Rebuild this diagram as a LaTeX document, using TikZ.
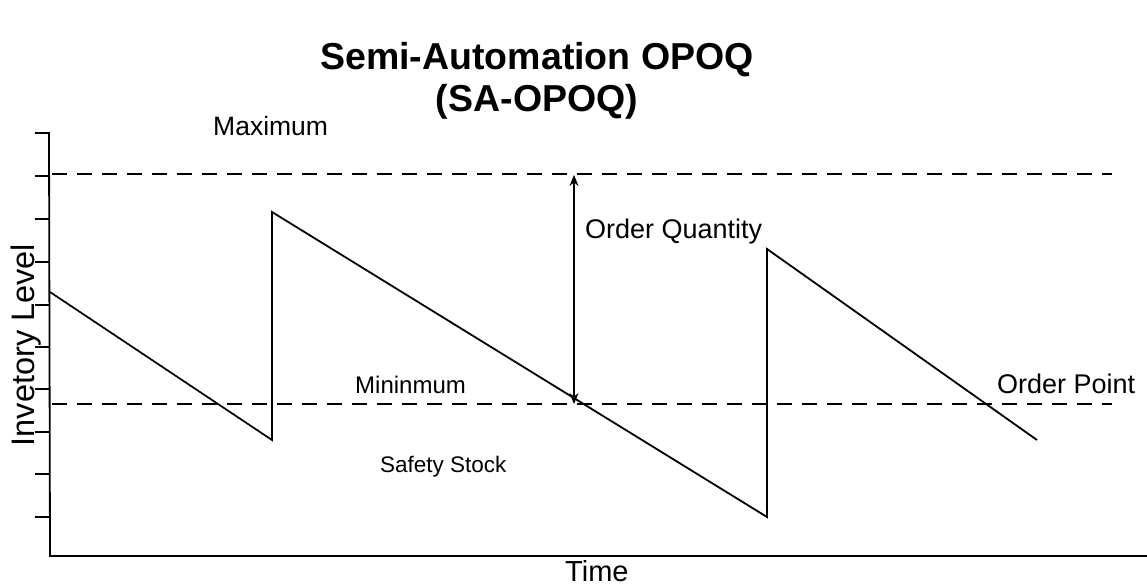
\documentclass[tikz,border=0pt]{standalone}
\usepackage{fontspec}
\setmainfont{Liberation Sans}
\usetikzlibrary{arrows.meta}
\begin{document}
\begin{tikzpicture}[x=1pt,y=-1pt,
  axisline/.style={line width=1.8pt},
  tickline/.style={line width=1.5pt},
  levelline/.style={line width=1.7pt, dash pattern=on 15pt off 10pt},
  sawline/.style={line width=1.8pt, line join=miter},
  qtyarrow/.style={line width=1.3pt, {Stealth[length=11pt,width=9pt]}-{Stealth[length=11pt,width=9pt]}},
  lbl/.style={inner sep=0pt, anchor=base west},
  ttl/.style={font=\bfseries\fontsize{37.5}{44}\selectfont, inner sep=0pt, align=center}
]
\useasboundingbox (0,0) rectangle (1147,588);
% title
\node[ttl, anchor=base] (t1) at (537,70) {Semi-Automation OPOQ};
\node[ttl, anchor=base] (t2) at (537,112) {(SA-OPOQ)};
% axes
\coordinate (ytop) at (49,133);
\coordinate (orig) at (50,556);
\coordinate (xend) at (1147,556);
\draw[axisline] (ytop) -- (orig) -- (xend);
\foreach \yy in {133,176,219,262,305,347,389,432,474,517}
  \draw[tickline] (35,\yy) -- (49.5,\yy);
% level lines
\coordinate (maxL) at (52,174);
\coordinate (maxR) at (1112,174);
\coordinate (minL) at (52,404);
\coordinate (minR) at (1112,404);
\draw[levelline] (maxL) -- (maxR);
\draw[levelline] (minL) -- (minR);
% sawtooth
\coordinate (s0) at (50,292);
\coordinate (s1) at (272,440);
\coordinate (s2) at (272,212);
\coordinate (s3) at (767,517);
\coordinate (s4) at (767,249);
\coordinate (s5) at (1037,440);
\draw[sawline] (s0) -- (s1) -- (s2) -- (s3) -- (s4) -- (s5);
% order quantity arrow
\coordinate (qa) at (574,175);
\coordinate (qb) at (574,404);
\draw[qtyarrow] (qa) -- (qb);
% labels
\node[lbl, font=\fontsize{26.5}{30}\selectfont] (lmax) at (213,136) {Maximum};
\node[lbl, font=\fontsize{27}{30}\selectfont] (lq) at (585,238) {Order Quantity};
\node[lbl, font=\fontsize{24}{28}\selectfont] (lmin) at (355,393) {Mininmum};
\node[lbl, font=\fontsize{27}{30}\selectfont] (lop) at (997,393) {Order Point};
\node[lbl, font=\fontsize{22.5}{26}\selectfont] (lss) at (380,472) {Safety Stock};
\node[lbl, font=\fontsize{29}{32}\selectfont] (ltime) at (565,581) {Time};
\node[font=\fontsize{32.5}{36}\selectfont, inner sep=0pt, rotate=90, anchor=base] (lyl) at (34,345) {Invetory Level};
\end{tikzpicture}
\end{document}
